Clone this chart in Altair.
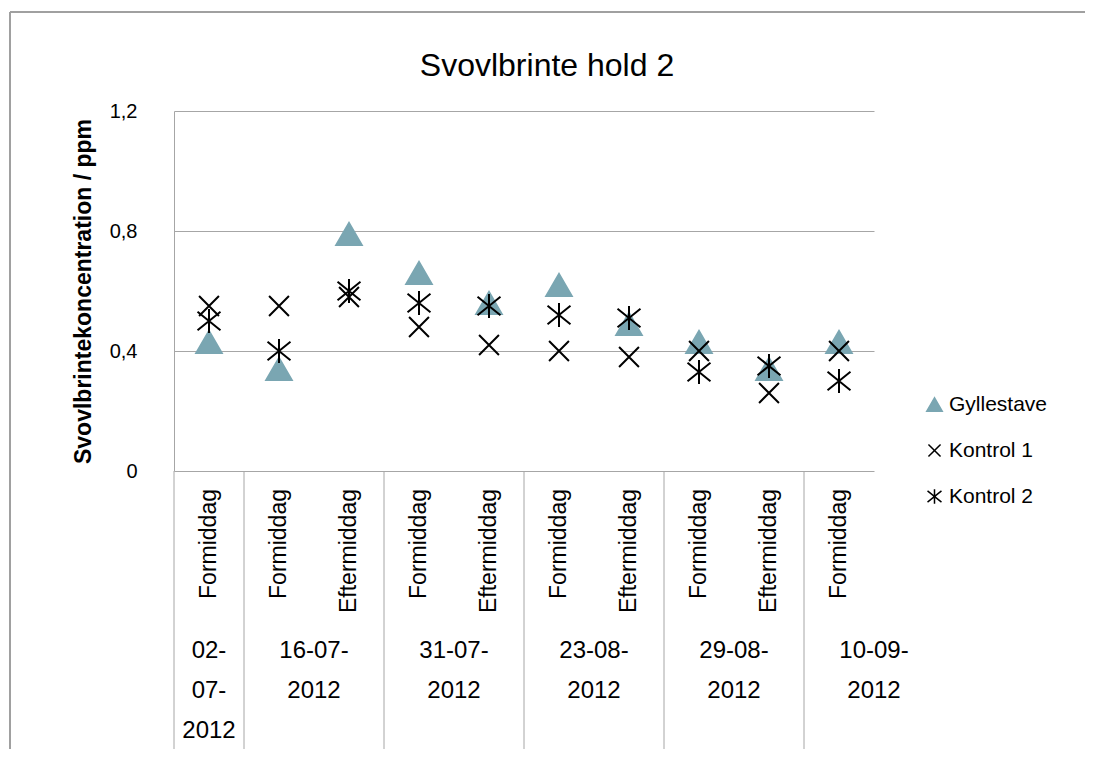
import altair as alt
import pandas as pd

# ---- data ----
positions = [0, 1, 2, 3, 4, 5, 6, 7, 8, 9]
periods = ["Formiddag", "Formiddag", "Eftermiddag", "Formiddag", "Eftermiddag",
           "Formiddag", "Eftermiddag", "Formiddag", "Eftermiddag", "Formiddag"]
gyllestave = [0.43, 0.34, 0.79, 0.66, 0.56, 0.62, 0.49, 0.43, 0.34, 0.43]
kontrol1 = [0.55, 0.55, 0.58, 0.48, 0.42, 0.40, 0.38, 0.40, 0.26, 0.40]
kontrol2 = [0.50, 0.40, 0.60, 0.56, 0.55, 0.52, 0.51, 0.33, 0.35, 0.30]
series_names = ["Gyllestave", "Kontrol 1", "Kontrol 2"]
date_labels = ["02-\n07-\n2012", "16-07-\n2012", "31-07-\n2012",
               "23-08-\n2012", "29-08-\n2012", "10-09-\n2012"]
date_centers = [0, 1.5, 3.5, 5.5, 7.5, 9.5]
group_bounds = [-0.5, 0.5, 2.5, 4.5, 6.5, 8.5]
y_ticks = [0, 0.4, 0.8, 1.2]
chart_title = "Svovlbrinte hold 2"

FONT = "Liberation Sans"
GRID = "#a6a6a6"
TEAL = "#7aa6b2"
W, H = 700, 360

rows = []
for name, vals in zip(series_names, [gyllestave, kontrol1, kontrol2]):
    for p, v in zip(positions, vals):
        rows.append({"pos": p, "value": v, "series": name})
points_df = pd.DataFrame(rows)
period_df = pd.DataFrame({"pos": positions, "period": periods})
date_df = pd.DataFrame({"center": date_centers, "label": date_labels})
bound_df = pd.DataFrame({"bound": group_bounds})

xscale = alt.Scale(domain=[-0.5, 9.5], nice=False, zero=False)
yscale = alt.Scale(domain=[0, 1.2], nice=False)

X_PATH = "M-0.78,-0.78L0.78,0.78M-0.78,0.78L0.78,-0.78"
AST_PATH = "M-0.9,-0.72L0.9,0.72M-0.9,0.72L0.9,-0.72M0,-0.95L0,0.95"

points = alt.Chart(points_df).mark_point(size=650, strokeWidth=2, opacity=1).encode(
    x=alt.X("pos:Q", scale=xscale, axis=None),
    y=alt.Y("value:Q", scale=yscale,
            axis=alt.Axis(values=y_ticks, title="Svovlbrintekoncentration / ppm",
                          labelExpr="datum.value == 0 ? '0' : replace(format(datum.value, '.1f'), '.', ',')",
                          ticks=False, grid=True, gridColor=GRID, gridWidth=1,
                          domain=True, domainColor=GRID, domainWidth=1,
                          labelFont=FONT, labelFontSize=20, labelColor="black",
                          labelPadding=37, titleFont=FONT, titleFontSize=23,
                          titleFontWeight="bold", titleColor="black", titlePadding=14)),
    shape=alt.Shape("series:N", scale=alt.Scale(domain=series_names,
                    range=["triangle-up", X_PATH, AST_PATH]),
                    legend=alt.Legend(title=None, orient="none", legendX=750, legendY=283,
                                      labelFont=FONT, labelFontSize=21, labelColor="black",
                                      symbolSize=240, symbolStrokeWidth=1.5,
                                      rowPadding=24, labelOffset=4, padding=0)),
    fill=alt.Fill("series:N", scale=alt.Scale(domain=series_names,
                  range=[TEAL, "transparent", "transparent"])),
    stroke=alt.Stroke("series:N", scale=alt.Scale(domain=series_names,
                      range=[TEAL, "black", "black"])),
)

separators = alt.Chart(bound_df).mark_rule(color=GRID, strokeWidth=1).encode(
    x=alt.X("bound:Q", scale=xscale, axis=None),
    y=alt.value(H),
    y2=alt.value(H + 281),
)

period_text = alt.Chart(period_df).mark_text(
    angle=270, align="right", baseline="middle", font=FONT, fontSize=23, color="black"
).encode(
    x=alt.X("pos:Q", scale=xscale, axis=None),
    y=alt.value(H + 18),
    text="period:N",
)

date_text = alt.Chart(date_df).mark_text(
    align="center", baseline="top", font=FONT, fontSize=24, color="black",
    lineBreak="\n", lineHeight=40
).encode(
    x=alt.X("center:Q", scale=xscale, axis=None),
    y=alt.value(H + 168),
    text="label:N",
)

title_text = alt.Chart(pd.DataFrame({"t": [chart_title]})).mark_text(
    align="center", baseline="alphabetic", font=FONT, fontSize=32, color="black"
).encode(
    x=alt.value(W / 2 + 23), y=alt.value(-35), text="t:N"
)

frame_top = alt.Chart(pd.DataFrame({"k": [0]})).mark_rule(color="#a0a0a0", strokeWidth=2).encode(
    x=alt.value(-164), x2=alt.value(W + 240), y=alt.value(-99)
)
frame_left = alt.Chart(pd.DataFrame({"k": [0]})).mark_rule(color="#a0a0a0", strokeWidth=2).encode(
    x=alt.value(-164), y=alt.value(-99), y2=alt.value(H + 300)
)

chart = alt.layer(separators, points, period_text, date_text, title_text,
                  frame_top, frame_left).properties(
    width=W, height=H,
    background="white",
    autosize=alt.AutoSizeParams(type="none"),
    padding={"left": 166, "top": 103, "right": 211, "bottom": 278},
).configure_view(stroke="transparent", strokeWidth=0)

chart.save("out.html", embed_options={"renderer": "svg", "actions": False})
